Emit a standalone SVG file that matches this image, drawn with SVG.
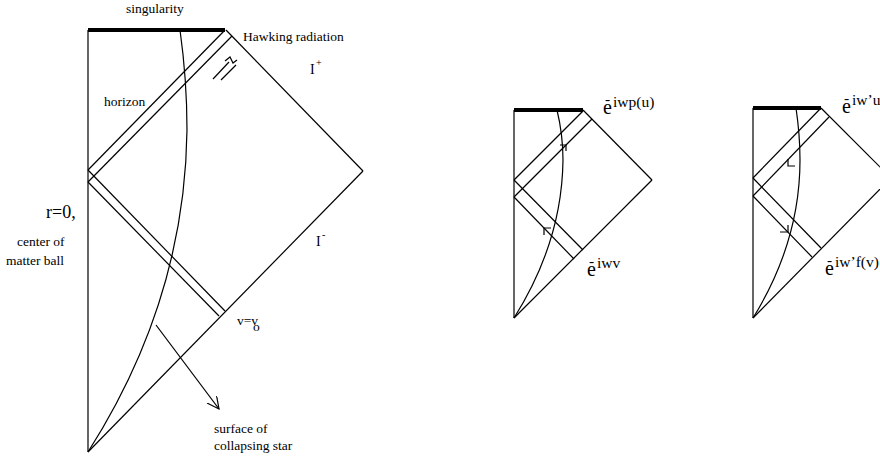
<svg xmlns="http://www.w3.org/2000/svg" width="880" height="459" viewBox="0 0 880 459">
<defs>
<style>
.l{stroke:#000;stroke-width:1.2;fill:none}
.s{stroke:#000;stroke-width:4;fill:none}
.t{font-family:"Liberation Serif",serif;font-size:13.5px;fill:#000}
.e{font-family:"Liberation Serif",serif;font-size:20px;fill:#000}
.x{font-family:"Liberation Serif",serif;font-size:15.5px;fill:#000}
</style>
<marker id="ah" markerWidth="14" markerHeight="14" refX="12" refY="6" orient="auto" markerUnits="userSpaceOnUse">
<path d="M0,0 L12,6 L0,12" fill="none" stroke="#000" stroke-width="1.2"/>
</marker>
</defs>
<rect width="880" height="459" fill="#fff"/>
<g id="connectors">
<line class="l" x1="88" y1="30" x2="88" y2="452"/>
<line class="s" x1="88" y1="30" x2="225" y2="30"/>
<line class="l" x1="226" y1="30" x2="363" y2="171"/>
<line class="l" x1="363" y1="171" x2="88" y2="452"/>
<line class="l" x1="88" y1="170" x2="225" y2="30"/>
<line class="l" x1="88" y1="182" x2="232" y2="36"/>
<line class="l" x1="88" y1="170" x2="225" y2="311"/>
<line class="l" x1="88" y1="182" x2="219" y2="316"/>
<path class="l" d="M88,452 Q185,300 187,130 Q187,80 180,30"/>
<line class="l" x1="156" y1="325" x2="219" y2="409" marker-end="url(#ah)"/>
<line class="l" x1="213" y1="79" x2="229" y2="62"/>
<line class="l" x1="221" y1="80" x2="236" y2="65"/>
<polyline class="l" points="225,61 230,57 233,63 237,60"/>
<line class="l" x1="514" y1="110" x2="514" y2="318"/>
<line class="s" x1="514" y1="110" x2="583" y2="110"/>
<line class="l" x1="583" y1="110" x2="652" y2="180"/>
<line class="l" x1="652" y1="180" x2="514" y2="318"/>
<line class="l" x1="514" y1="180" x2="583" y2="111"/>
<line class="l" x1="514" y1="197" x2="592" y2="119"/>
<line class="l" x1="514" y1="180" x2="583" y2="250"/>
<line class="l" x1="514" y1="197" x2="574" y2="259"/>
<path class="l" d="M514,318 Q562,242 563,160 Q563,135 557,110"/>
<polyline class="l" points="560,145 566,145 566,151"/>
<polyline class="l" points="551,228 544,228 544,235"/>
<line class="l" x1="753" y1="108" x2="753" y2="318"/>
<line class="s" x1="753" y1="108" x2="821" y2="108"/>
<line class="l" x1="821" y1="108" x2="891" y2="178"/>
<line class="l" x1="891" y1="178" x2="753" y2="318"/>
<line class="l" x1="753" y1="178" x2="821" y2="108"/>
<line class="l" x1="753" y1="196" x2="829" y2="117"/>
<line class="l" x1="753" y1="178" x2="821" y2="248"/>
<line class="l" x1="753" y1="196" x2="812" y2="257"/>
<path class="l" d="M753,318 Q800,242 800,160 Q800,135 796,108"/>
<polyline class="l" points="788,159 788,166 795,166"/>
<polyline class="l" points="780,232 788,232 788,225"/>
</g>
<g id="labels-main">
<text class="t" x="126" y="13">singularity</text>
<text class="t" x="243" y="41">Hawking radiation</text>
<text class="t" x="104" y="106">horizon</text>
<text class="t" x="310" y="74" style="font-size:14px">I</text>
<text class="t" x="316" y="66" style="font-size:10px">+</text>
<text class="t" x="316" y="246" style="font-size:14px">I</text>
<text class="t" x="322" y="238" style="font-size:10px">-</text>
<text class="t" x="46" y="218" style="font-size:18px">r=0,</text>
<text class="t" x="17" y="246">center of</text>
<text class="t" x="6" y="265">matter ball</text>
<text class="t" x="237" y="325">v=v</text>
<text class="t" x="253" y="331">o</text>
<text class="t" x="214" y="433">surface of</text>
<text class="t" x="214" y="450">collapsing star</text>
</g>
<g id="labels-middle">
<text class="e" x="603" y="114">e</text>
<text class="x" x="605" y="104">-</text>
<text class="x" x="613" y="107">iwp(u)</text>
<text class="e" x="587" y="276">e</text>
<text class="x" x="589" y="266">-</text>
<text class="x" x="597" y="268">iwv</text>
</g>
<g id="labels-right">
<text class="e" x="842" y="113">e</text>
<text class="x" x="844" y="103">-</text>
<text class="x" x="852" y="105">iw’u</text>
<text class="e" x="825" y="275">e</text>
<text class="x" x="827" y="265">-</text>
<text class="x" x="835" y="267">iw’f(v)</text>
</g>
</svg>
